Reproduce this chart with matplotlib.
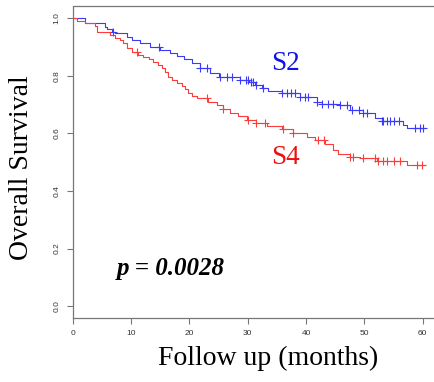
import numpy as np
import matplotlib
matplotlib.use("Agg")
import matplotlib.pyplot as plt

# Kaplan-Meier steps (months, survival after the step)
s2_times = [0, 2.1, 5.5, 5.8, 6.7, 7.3, 9.3, 10.1, 11.5, 13.3, 15.0, 16.7, 17.8, 19.0, 20.4,
            21.8, 23.5, 25.0, 28.7, 30.2, 31.3, 32.4, 33.5, 35.8, 39.0, 41.8, 42.7, 45.8,
            47.5, 49.8, 51.8, 53.0, 56.7, 57.3]
s2_surv = [1.0, 0.983, 0.972, 0.962, 0.954, 0.948, 0.934, 0.925, 0.914, 0.902, 0.890, 0.879,
           0.870, 0.858, 0.844, 0.827, 0.812, 0.798, 0.786, 0.780, 0.769, 0.757, 0.749, 0.740,
           0.728, 0.711, 0.703, 0.699, 0.682, 0.670, 0.653, 0.645, 0.630, 0.618]
s2_censor = [6.9, 14.8, 21.8, 23.0, 25.3, 26.4, 27.3, 28.7, 29.7, 30.1, 30.5, 30.9, 31.5, 32.7,
             35.8, 36.7, 37.5, 38.1, 39.0, 39.8, 40.4, 41.8, 42.7, 43.8, 44.7, 45.8, 47.0,
             47.8, 49.0, 49.8, 50.4, 53.0, 53.2, 53.8, 54.4, 55.0, 56.0, 58.7, 59.5, 60.1]

s4_times = [0, 0.7, 2.1, 3.8, 4.1, 6.4, 7.3, 8.1, 8.7, 9.3, 10.1, 11.2, 12.1, 13.0, 13.8,
            14.7, 15.3, 15.8, 16.4, 17.0, 17.8, 18.7, 19.3, 19.8, 20.4, 21.3, 23.2, 24.7,
            25.8, 27.0, 28.4, 29.8, 31.5, 33.3, 35.8, 37.8, 40.1, 41.5, 43.3, 44.7, 45.5,
            47.5, 49.3, 52.1, 57.3]
s4_surv = [1.0, 0.993, 0.986, 0.974, 0.954, 0.943, 0.931, 0.925, 0.914, 0.896, 0.885, 0.873,
           0.865, 0.858, 0.850, 0.838, 0.827, 0.815, 0.798, 0.786, 0.775, 0.765, 0.754, 0.742,
           0.730, 0.722, 0.711, 0.699, 0.684, 0.672, 0.661, 0.647, 0.638, 0.626, 0.614, 0.601,
           0.589, 0.577, 0.563, 0.543, 0.529, 0.519, 0.514, 0.505, 0.490]
s4_censor = [11.0, 23.0, 25.8, 30.1, 31.5, 33.0, 36.1, 37.8, 42.1, 43.0, 47.5, 48.1, 49.8,
             51.8, 52.4, 53.2, 53.8, 55.0, 56.1, 59.0, 59.8]

end_time = 60.4
x_ticks = [0, 10, 20, 30, 40, 50, 60]
y_ticks = [0.0, 0.2, 0.4, 0.6, 0.8, 1.0]
p_text = "p = 0.0028"

serif = "Liberation Serif"
sans = "Liberation Sans"


def km_curve(ax, times, surv, censor, color):
    t = list(times) + [end_time]
    s = list(surv) + [surv[-1]]
    ax.step(t, s, where="post", color=color, lw=0.8)
    idx = np.searchsorted(times, censor, side="right") - 1
    cy = np.array(surv)[idx]
    ax.plot(censor, cy, ls="none", marker="+", ms=5.5, mew=0.8, color=color)


fig = plt.figure(figsize=(4.35, 3.82), dpi=100)
ax = fig.add_axes([72.7 / 435, 64 / 382, (442 - 72.7) / 435, (318 - 6.5) / 382])

km_curve(ax, s2_times, s2_surv, s2_censor, "#3a3aff")
km_curve(ax, s4_times, s4_surv, s4_censor, "#ff3a3a")

ax.set_xlim(0, (442 - 72.7) / 5.833)
ax.set_ylim(-0.0417, 1.0417)
ax.set_xticks(x_ticks)
ax.set_yticks(y_ticks)
ax.set_xticklabels([str(v) for v in x_ticks], fontsize=6, family=sans, color="#333333")
ax.set_yticklabels(["%.1f" % v for v in y_ticks], fontsize=6, family=sans, color="#333333",
                   rotation=90, va="center")
ax.tick_params(axis="both", length=4.3, width=0.8, color="#777777", pad=4.5)
for sp in ax.spines.values():
    sp.set_color("#777777")
    sp.set_linewidth(0.9)
ax.spines["right"].set_visible(False)  # plot box is cut off at the right edge

ax.text(36.5, 0.842, "S2", color="#1010ee", fontsize=19.5, family=serif, ha="center", va="center")
ax.text(36.5, 0.517, "S4", color="#ee1010", fontsize=19.5, family=serif, ha="center", va="center")
ax.text(7.6, 0.108, p_text, fontsize=18, family=serif, weight="bold", style="italic",
        ha="left", va="baseline")

fig.text(22 / 435, 1 - 168 / 382, "Overall Survival", rotation=90, fontsize=20, family=serif,
         ha="center", va="center")
fig.text(268 / 435, 1 - 358 / 382, "Follow up (months)", fontsize=20, family=serif,
         ha="center", va="center")

fig.savefig("out.png", dpi=100)
